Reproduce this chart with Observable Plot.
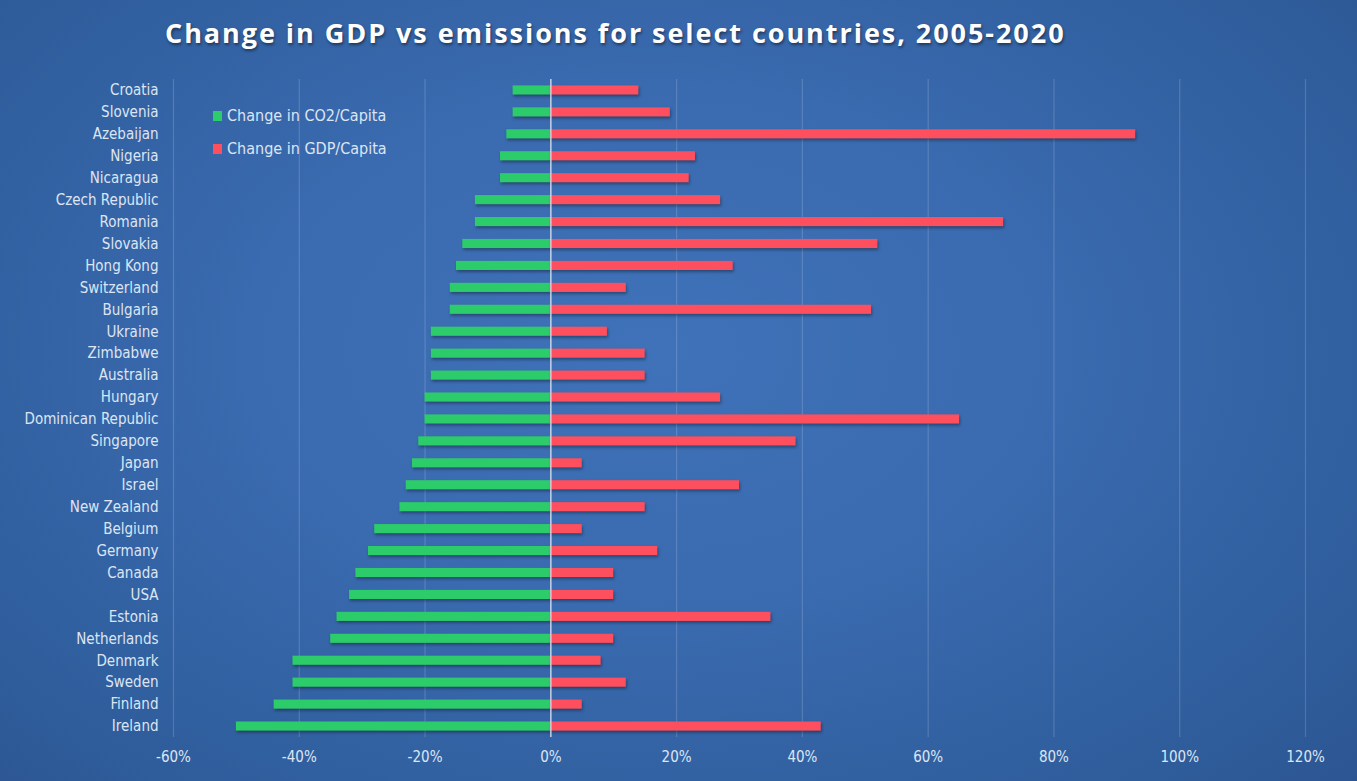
<!DOCTYPE html>
<html>
<head>
<meta charset="utf-8">
<script src="https://cdn.jsdelivr.net/npm/d3@7"></script>
<script src="https://cdn.jsdelivr.net/npm/@observablehq/plot@0.6"></script>
<style>
  html, body { margin: 0; padding: 0; }
  #wrap {
    position: relative; width: 1357px; height: 781px; overflow: hidden;
    background: radial-gradient(ellipse 75% 85% at 48% 45%, #3f72b9 0%, #3a6aaf 40%, #3160a0 70%, #2b5490 100%);
  }
  #title {
    position: absolute; left: 165px; top: 14px; white-space: nowrap;
    font-family: "Open Sans", "DejaVu Sans", sans-serif; font-weight: 700;
    font-size: 27px; letter-spacing: 1.95px; color: #ffffff;
    text-shadow: 1px 2px 3px rgba(0,0,0,0.45);
  }
  #chart { position: absolute; left: 0; top: 70px; line-height: 0; }
  #legend {
    position: absolute; left: 213px; top: 99px;
    font-family: "Liberation Sans Narrow", "DejaVu Sans Condensed", "Roboto", sans-serif;
    font-size: 16px; color: #dde5f3;
  }
  #legend .item { display: flex; align-items: center; height: 33px; }
  #legend .sw { width: 9px; height: 10px; margin-right: 5px; }
  #chart svg g[aria-label="bar"] rect { filter: drop-shadow(1.5px 2px 1.5px rgba(0,0,0,0.35)); }
</style>
</head>
<body>
<div id="wrap">
  <div id="title">Change in GDP vs emissions for select countries, 2005-2020</div>
  <div id="chart"></div>
  <div id="legend"></div>
</div>
<script>
const countries = ["Croatia","Slovenia","Azebaijan","Nigeria","Nicaragua","Czech Republic","Romania","Slovakia","Hong Kong","Switzerland","Bulgaria","Ukraine","Zimbabwe","Australia","Hungary","Dominican Republic","Singapore","Japan","Israel","New Zealand","Belgium","Germany","Canada","USA","Estonia","Netherlands","Denmark","Sweden","Finland","Ireland"];
const co2Change = [-0.06,-0.06,-0.07,-0.08,-0.08,-0.12,-0.12,-0.14,-0.15,-0.16,-0.16,-0.19,-0.19,-0.19,-0.20,-0.20,-0.21,-0.22,-0.23,-0.24,-0.28,-0.29,-0.31,-0.32,-0.34,-0.35,-0.41,-0.41,-0.44,-0.50];
const gdpChange = [0.14,0.19,0.93,0.23,0.22,0.27,0.72,0.52,0.29,0.12,0.51,0.09,0.15,0.15,0.27,0.65,0.39,0.05,0.30,0.15,0.05,0.17,0.10,0.10,0.35,0.10,0.08,0.12,0.05,0.43];
const xTicks = [-0.6,-0.4,-0.2,0,0.2,0.4,0.6,0.8,1.0,1.2];
const seriesNames = ["Change in CO2/Capita","Change in GDP/Capita"];
const seriesColors = ["#2dcc6a","#fd4f5d"];

const co2Data = countries.map((c, i) => ({country: c, value: co2Change[i]}));
const gdpData = countries.map((c, i) => ({country: c, value: gdpChange[i]}));

const fmt = d => Math.round(d * 100) + "%";
const inset = 6.4;

const chart = Plot.plot({
  width: 1357,
  height: 711,
  marginLeft: 173,
  marginRight: 52,
  marginTop: 9,
  marginBottom: 44,
  style: {
    background: "transparent",
    color: "#dde5f3",
    fontFamily: "'Liberation Sans Narrow', 'DejaVu Sans Condensed', Roboto, sans-serif",
    fontSize: "15px",
    overflow: "visible"
  },
  x: {domain: [-0.6, 1.2], ticks: xTicks, tickFormat: fmt},
  y: {domain: countries, padding: 0, round: false},
  marks: [
    Plot.gridX(xTicks, {stroke: "#ffffff", strokeOpacity: 0.16, strokeWidth: 1.2}),
    Plot.barX(co2Data, {x1: 0, x2: "value", y: "country", fill: seriesColors[0], insetTop: inset, insetBottom: inset}),
    Plot.barX(gdpData, {x1: 0, x2: "value", y: "country", fill: seriesColors[1], insetTop: inset, insetBottom: inset}),
    Plot.ruleX([0], {stroke: "#d5def0", strokeOpacity: 0.85, strokeWidth: 1.5}),
    Plot.axisX({ticks: xTicks, tickFormat: fmt, tickSize: 0, tickPadding: 14, label: null, fontSize: 15}),
    Plot.axisY({tickSize: 0, tickPadding: 15, label: null, fontSize: 15})
  ]
});
document.getElementById("chart").appendChild(chart);

const legend = document.getElementById("legend");
seriesNames.forEach((name, i) => {
  const item = document.createElement("div");
  item.className = "item";
  const sw = document.createElement("span");
  sw.className = "sw";
  sw.style.background = seriesColors[i];
  const label = document.createElement("span");
  label.textContent = name;
  item.appendChild(sw);
  item.appendChild(label);
  legend.appendChild(item);
});
</script>
</body>
</html>
